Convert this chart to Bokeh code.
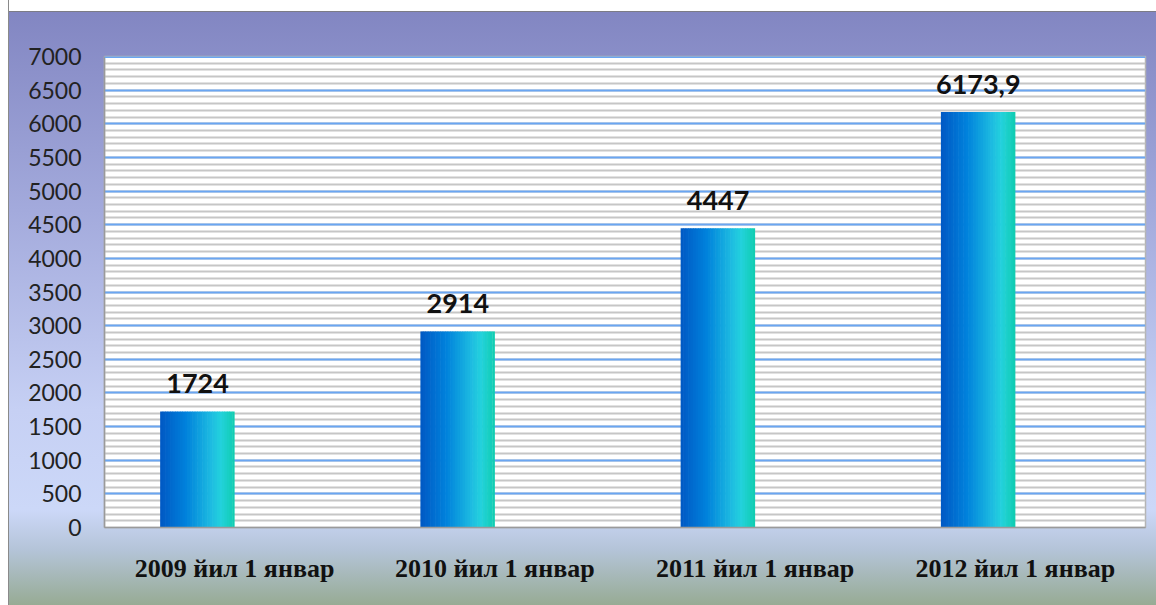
from bokeh.plotting import figure
from bokeh.models import ColumnDataSource, FactorRange, SingleIntervalTicker, Span
from bokeh.transform import dodge
from bokeh.core.properties import value
from bokeh.embed import file_html
from bokeh.resources import INLINE

categories = ["2009 йил 1 январ", "2010 йил 1 январ", "2011 йил 1 январ", "2012 йил 1 январ"]
values = [1724, 2914, 4447, 6173.9]
labels = [("%g" % v).replace(".", ",") for v in values]

src = ColumnDataSource(dict(cat=categories, val=values, lab=labels))

p = figure(x_range=FactorRange(*categories, range_padding=0), y_range=(0, 7000),
           width=1156, height=605, output_backend="svg", toolbar_location=None,
           min_border_left=104, min_border_right=11, min_border_top=56, min_border_bottom=78)

p.border_fill_color = None
p.background_fill_color = "white"
p.outline_line_color = "#b4b4b4"
p.outline_line_width = 1.5
p.styles = {"background": "linear-gradient(to bottom, #ffffff 0px, #ffffff 11px, #7c7c86 11px, #7c7c86 12px, "
                          "#8286c2 12px, #a3aadc 210px, #c6d0f4 410px, #ccd8f8 510px, #b4c4d8 550px, #97ab94 605px)",
            "box-shadow": "inset 8px 0 0 0 #ffffff, inset 9px 0 0 0 #8a8a8a"}

# bars with horizontal gradient built from thin slices
bar_w = 0.285
n = 30
stops = [(0.0, (0, 88, 196)), (0.35, (0, 130, 220)), (0.7, (30, 190, 225)), (0.82, (35, 210, 220)), (1.0, (15, 205, 175))]
def col(t):
    for (t0, c0), (t1, c1) in zip(stops[:-1], stops[1:]):
        if t <= t1:
            f = (t - t0) / (t1 - t0)
            return "#%02x%02x%02x" % tuple(int(round(a + (b - a) * f)) for a, b in zip(c0, c1))
    return "#%02x%02x%02x" % stops[-1][1]

sw = bar_w / n
for k in range(n):
    off = -bar_w + (k + 0.5) * sw
    p.vbar(x=dodge("cat", off, range=p.x_range), top="val", width=sw * 1.25 if k < n - 1 else sw,
           source=src, fill_color=col((k + 0.5) / n), line_color=None)

p.text(x=dodge("cat", -bar_w / 2, range=p.x_range), y="val", text="lab", source=src,
       text_align="center", text_baseline="middle", y_offset=-28,
       text_font=value("Lato"), text_font_style="bold", text_font_size="27px", text_color="#111111")

# axes
p.yaxis.ticker = SingleIntervalTicker(interval=500, num_minor_ticks=5)
p.yaxis.major_label_text_font = "Lato"
p.yaxis.major_label_text_font_size = "23px"
p.yaxis.major_label_text_color = "#222222"
p.yaxis.major_label_standoff = 17
p.yaxis.major_tick_line_color = None
p.yaxis.minor_tick_line_color = None
p.yaxis.axis_line_color = "#9a9a9a"
p.yaxis.axis_line_width = 1.5

p.xaxis.major_label_text_font = "Liberation Serif"
p.xaxis.major_label_text_font_style = "bold"
p.xaxis.major_label_text_font_size = "26px"
p.xaxis.major_label_text_color = "#111111"
p.xaxis.major_label_standoff = 20
p.xaxis.major_tick_line_color = None
p.xaxis.axis_line_color = "#9a9a9a"
p.xaxis.axis_line_width = 1.5

p.xgrid.grid_line_color = None
p.ygrid.grid_line_color = "#6aa6f2"
p.ygrid.grid_line_width = 2
p.ygrid.minor_grid_line_color = "#c6c6c6"
p.ygrid.minor_grid_line_width = 2

p.add_layout(Span(location=7000, dimension="width", line_color="#6aa6f2", line_width=3))

open("out.html", "w").write(file_html(p, INLINE))
